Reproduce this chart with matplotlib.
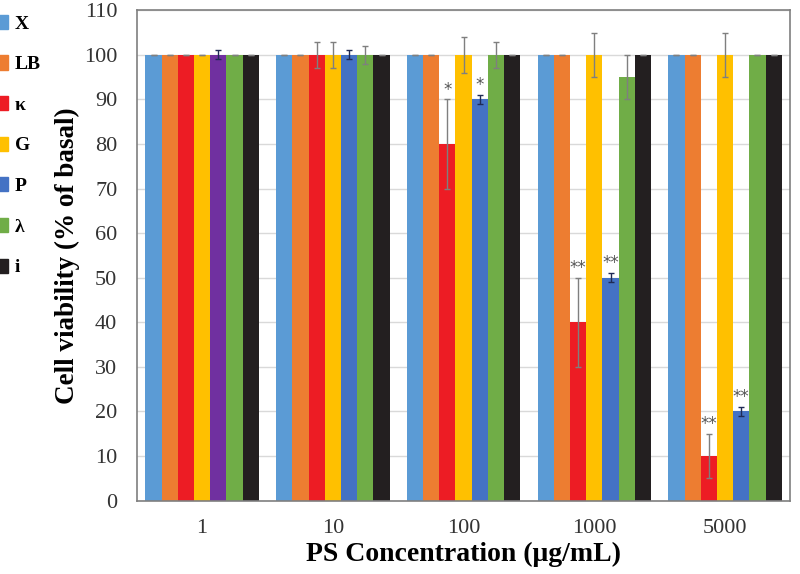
import numpy as np
import matplotlib.pyplot as plt
from matplotlib.patches import Patch

plt.rcParams['font.family'] = ['Liberation Serif', 'DejaVu Serif']

# Data
concentrations = ['1', '10', '100', '1000', '5000']
series_names   = ['X', 'LB', 'κ', 'G', 'P', 'λ', 'i']

X_vals   = [100, 100, 100, 100, 100]
LB_vals  = [100, 100, 100, 100, 100]
k_vals   = [100, 100, 80, 40, 10]
G_vals   = [100, 100, 100, 100, 100]
P_vals   = [100, 100, 90, 50, 20]
lam_vals = [100, 100, 100, 95, 100]
i_vals   = [100, 100, 100, 100, 100]

X_err   = [0, 0, 0, 0, 0]
LB_err  = [0, 0, 0, 0, 0]
k_err   = [0, 3, 10, 10, 5]
G_err   = [0, 3, 4, 5, 5]
P_err   = [1, 1, 1, 1, 1]
lam_err = [0, 2, 3, 5, 0]
i_err   = [0, 0, 0, 0, 0]

# significance marks: (series index, group index, text)
stars = [(2, 2, '*'), (4, 2, '*'), (2, 3, '**'), (4, 3, '**'), (2, 4, '**'), (4, 4, '**')]

values = [X_vals, LB_vals, k_vals, G_vals, P_vals, lam_vals, i_vals]
errors = [X_err, LB_err, k_err, G_err, P_err, lam_err, i_err]
colors = ['#5B9BD5', '#ED7D31', '#ED1C24', '#FFC000', '#4472C4', '#70AD47', '#231F20']
err_colors = ['#7F7F7F', '#7F7F7F', '#7F7F7F', '#7F7F7F', '#1F2A55', '#7F7F7F', '#7F7F7F']

fig = plt.figure(figsize=(8, 5.74), dpi=100)
ax = fig.add_axes([0.171, 0.128, 0.817, 0.854])

x = np.arange(len(concentrations))
w = 0.124
for s in range(len(series_names)):
    pos = x + (s - 3) * w
    cols = [colors[s]] * len(x)
    if s == 4:
        cols[0] = '#7030A0'   # first P bar is purple in the original
    ax.bar(pos, values[s], width=w, color=cols, zorder=2)
    ax.errorbar(pos, values[s], yerr=errors[s], fmt='none', ecolor=err_colors[s],
                elinewidth=1, capsize=2.5, capthick=1, zorder=3)

for s, g, txt in stars:
    top = values[s][g] + errors[s][g]
    ax.text(x[g] + (s - 3) * w, top + 0.2, txt, ha='center', va='bottom',
            fontsize=12, color='#555555', family='DejaVu Sans')

ax.set_xlim(-0.5, 4.5)
ax.set_ylim(0, 110)
ax.set_yticks(np.arange(0, 111, 10))
ax.set_xticks(x)
ax.set_xticklabels(concentrations)
ax.tick_params(axis='both', length=0, labelsize=16, colors='#333333')
ax.tick_params(axis='x', pad=13)
ax.tick_params(axis='y', pad=14)
ax.yaxis.grid(True, color='#D9D9D9', linewidth=1, zorder=0)
ax.set_axisbelow(True)
for sp in ax.spines.values():
    sp.set_color('#7F7F7F')
    sp.set_linewidth(1.2)

ax.set_ylabel('Cell viability (% of basal)', fontsize=19.5, fontweight='bold', labelpad=3)
ax.set_xlabel('PS Concentration (μg/mL)', fontsize=20, fontweight='bold', labelpad=3)

# legend on the far left
handles = [Patch(color=c) for c in colors]
fig.legend(handles, series_names, loc='upper left', bbox_to_anchor=(-0.03, 1.005),
           frameon=False, handlelength=0.75, handleheight=0.75, handletextpad=0.35,
           labelspacing=1.17, prop={'family': 'Liberation Serif', 'weight': 'bold', 'size': 14})

fig.savefig('out.png', dpi=100)
